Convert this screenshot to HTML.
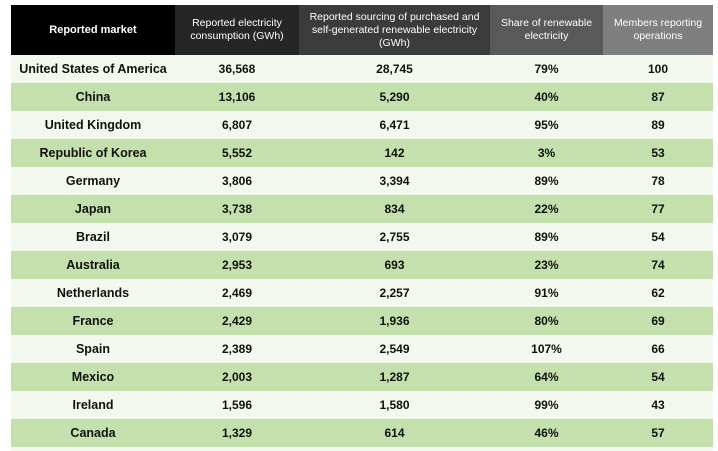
<!DOCTYPE html>
<html><head><meta charset="utf-8"><style>
body{margin:0;width:718px;height:451px;background:#fff;overflow:hidden;font-family:"Liberation Sans",sans-serif}
table{position:absolute;left:11px;top:5px;border-collapse:collapse;table-layout:fixed;width:702px}
th{color:#fff;font-weight:normal;font-size:10.5px;line-height:13px;height:50px;padding:0 2px;text-align:center}
td{height:28px;padding:0;text-align:center;font-weight:bold;font-size:12px;color:#111}
td.m{font-size:12.5px}
tr.l td{background:#f2f8ee}
tr.g td{background:#c4e0ac}
.after{position:absolute;left:11px;top:447px;width:702px;height:4px;background:#f2f8ee}
</style></head><body>
<table>
<colgroup><col style="width:164px"><col style="width:124px"><col style="width:191px"><col style="width:113px"><col style="width:110px"></colgroup>
<tr>
<th style="background:#000;font-weight:bold;font-size:11px">Reported market</th>
<th style="background:#262626">Reported electricity consumption (GWh)</th>
<th style="background:#3b3b3b">Reported sourcing of purchased and self-generated renewable electricity (GWh)</th>
<th style="background:#595959">Share of renewable electricity</th>
<th style="background:#7f7f7f">Members reporting operations</th>
</tr>
<tbody id="tb"></tbody>
</table>
<div class="after"></div>
<script>
const markets=["United States of America","China","United Kingdom","Republic of Korea","Germany","Japan","Brazil","Australia","Netherlands","France","Spain","Mexico","Ireland","Canada"];
const consumption=["36,568","13,106","6,807","5,552","3,806","3,738","3,079","2,953","2,469","2,429","2,389","2,003","1,596","1,329"];
const sourcing=["28,745","5,290","6,471","142","3,394","834","2,755","693","2,257","1,936","2,549","1,287","1,580","614"];
const share=["79%","40%","95%","3%","89%","22%","89%","23%","91%","80%","107%","64%","99%","46%"];
const members=["100","87","89","53","78","77","54","74","62","69","66","54","43","57"];
const tb=document.getElementById('tb');
markets.forEach((m,i)=>{
 const tr=document.createElement('tr');
 tr.className=i%2?'g':'l';
 
 
 [m,consumption[i],sourcing[i],share[i],members[i]].forEach((v,j)=>{
  const td=document.createElement('td');
  if(j===0)td.className='m';
  td.textContent=v;
  
  
  tr.appendChild(td);
 });
 tb.appendChild(tr);
});
</script>
</body></html>
